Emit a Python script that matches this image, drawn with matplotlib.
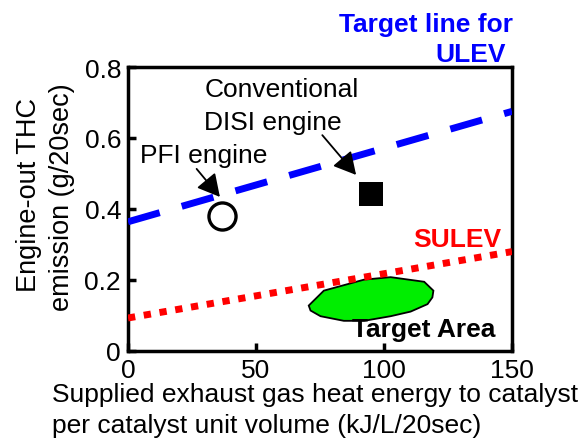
import matplotlib
matplotlib.use("Agg")
import matplotlib.pyplot as plt
from matplotlib.patches import Polygon

plt.rcParams['font.family'] = ['Liberation Sans', 'DejaVu Sans']

# Data
ulev_x = [0, 150]
ulev_y = [0.364, 0.675]
sulev_x = [0, 150]
sulev_y = [0.093, 0.280]
pfi_point = (36.6, 0.381)
disi_point = (94.8, 0.442)
target_area_x = [70.6, 76.5, 92.2, 102.6, 115.7, 119.3, 118.9, 117.0, 110.4, 102.6, 92.2, 84.3, 75.2, 71.3]
target_area_y = [0.128, 0.170, 0.201, 0.208, 0.195, 0.170, 0.151, 0.132, 0.111, 0.098, 0.085, 0.085, 0.098, 0.114]
xticks = [0, 50, 100, 150]
yticks = [0, 0.2, 0.4, 0.6, 0.8]
ytick_labels = ['0', '0.2', '0.4', '0.6', '0.8']

fig = plt.figure(figsize=(5.84, 4.39), dpi=100)
ax = fig.add_axes([128/584, 1-352/439, (512-128)/584, (352-68)/439])
ax.set_xlim(0, 150)
ax.set_ylim(0, 0.8)

# Target area blob
poly = Polygon(list(zip(target_area_x, target_area_y)), closed=True,
               facecolor='#00ee00', edgecolor='black', lw=1.3, zorder=2)
ax.add_patch(poly)

# Lines
ax.plot(ulev_x, ulev_y, color='#0000ff', lw=5, dashes=(4.75, 3.3),
        dash_capstyle='butt', zorder=3)
ax.plot(sulev_x, sulev_y, color='#ff0000', lw=5, dashes=(1.05, 1.25),
        dash_capstyle='butt', zorder=3)

# Markers
ax.plot([pfi_point[0]], [pfi_point[1]], marker='o', ms=19.5, mfc='white',
        mec='black', mew=2.4, zorder=4, clip_on=False)
ax.plot([disi_point[0]], [disi_point[1]], marker='s', ms=17, mfc='black',
        mec='black', mew=0, zorder=4, clip_on=False)

# Arrows
arrow_kw = dict(arrowstyle='-|>,head_length=0.65,head_width=0.35', mutation_scale=21,
                lw=1.3, color='black', shrinkA=0, shrinkB=0)
ax.annotate('', xy=(35.9, 0.434), xytext=(26.8, 0.513), arrowprops=arrow_kw, zorder=5)
ax.annotate('', xy=(89.1, 0.496), xytext=(75.9, 0.608), arrowprops=arrow_kw, zorder=5)

# Text annotations
fs = 19
ax.text(29.8, 0.718, 'Conventional', fontsize=fs, ha='left', va='baseline')
ax.text(29.8, 0.625, 'DISI engine', fontsize=fs, ha='left', va='baseline')
ax.text(4.7, 0.532, 'PFI engine', fontsize=fs, ha='left', va='baseline')
ax.text(87.6, 0.043, 'Target Area', fontsize=fs, fontweight='bold', ha='left', va='baseline', zorder=6)
ax.text(145.7, 0.297, 'SULEV', fontsize=fs, fontweight='bold', color='#ff0000', ha='right', va='baseline')
ax.text(150.4, 0.901, 'Target line for', fontsize=fs, fontweight='bold', color='#0000ff', ha='right', va='baseline', clip_on=False)
ax.text(147.7, 0.817, 'ULEV', fontsize=fs, fontweight='bold', color='#0000ff', ha='right', va='baseline', clip_on=False)

# Axes styling
for s in ax.spines.values():
    s.set_linewidth(2.5)
ax.set_xticks(xticks)
ax.set_xticklabels([str(v) for v in xticks])
ax.set_yticks(yticks)
ax.set_yticklabels(ytick_labels)
ax.tick_params(direction='in', length=6, width=2.5, labelsize=fs, pad=5,
               top=False, right=False)

# Axis labels
fig.text(52/584, 1-401.7/439, 'Supplied exhaust gas heat energy to catalyst',
         fontsize=fs, ha='left', va='baseline')
fig.text(52/584, 1-433/439, 'per catalyst unit volume (kJ/L/20sec)',
         fontsize=fs, ha='left', va='baseline')
fig.text(29/584, 1-195.5/439, 'Engine-out THC', fontsize=19.5, rotation=90,
         ha='center', va='center')
fig.text(62/584, 1-197.5/439, 'emission (g/20sec)', fontsize=19.5, rotation=90,
         ha='center', va='center')

fig.savefig('out.png', dpi=100)
